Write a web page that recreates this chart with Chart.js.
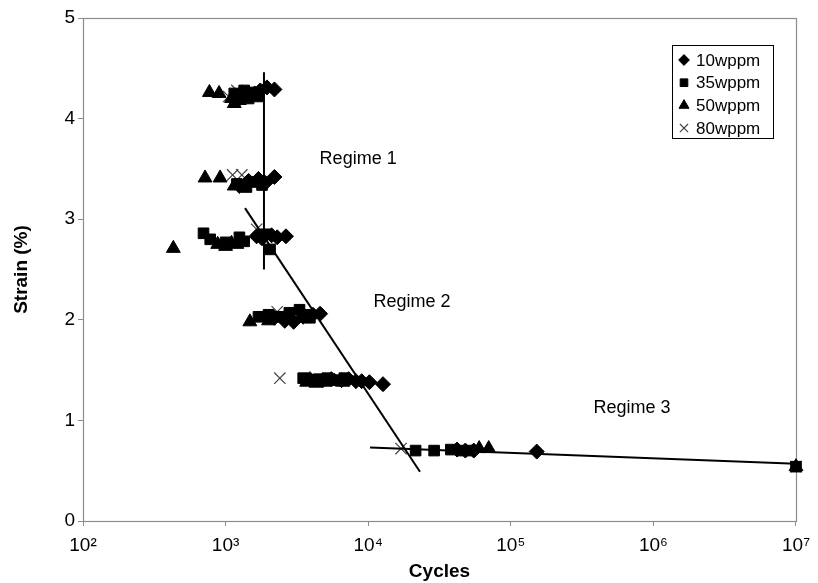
<!DOCTYPE html>
<html>
<head>
<meta charset="utf-8">
<script src="https://cdn.jsdelivr.net/npm/chart.js@4.4.1/dist/chart.umd.min.js"></script>
<style>
html,body{margin:0;padding:0;background:#fff;}
#wrap{width:818px;height:583px;}
</style>
</head>
<body>
<div id="wrap"><canvas id="c" width="818" height="583"></canvas></div>
<script>
// ---- data ----
const seriesNames = ['10wppm', '35wppm', '50wppm', '80wppm'];

const cycles10 = [1250,1400,1600,1750,1950,2200, 1250,1450,1700,1900,2200, 1650,1800,2100,2300,2650, 2200,2600,3000,3500,4100,4600, 3900,4800,5500,6500,7300,8200,9000,10200,12700, 42000,48000,55000,152000];
const strain10 = [4.20,4.23,4.25,4.28,4.31,4.29, 3.33,3.38,3.40,3.36,3.42, 2.83,2.81,2.84,2.82,2.83, 2.02,1.99,1.98,2.03,2.05,2.06, 1.41,1.40,1.41,1.40,1.41,1.39,1.39,1.38,1.36, 0.71,0.70,0.70,0.69];

const cycles35 = [1150,1250,1350,1450,1550,1700, 1200,1400,1600,1800, 700,780,1000,1250,1350,1900,2050, 1700,2000,2400,2800,3300,3600,3900, 3500,4000,4500,5200,6000,6800, 21500,29000,38000,45000,52000,10000000];
const strain35 = [4.25,4.22,4.28,4.20,4.26,4.22, 3.35,3.32,3.37,3.34, 2.86,2.80,2.77,2.82,2.78,2.85,2.70, 2.03,2.05,2.03,2.07,2.10,2.05,2.02, 1.42,1.40,1.41,1.42,1.40,1.42, 0.70,0.70,0.71,0.70,0.70,0.54];

const cycles50 = [770,900,1100,1150,1250, 718,915,1150, 430,880,1000,1100,1200, 1480,2000, 3700,4300,5000,5800,6600, 60000,70000,10000000];
const strain50 = [4.26,4.25,4.20,4.15,4.18, 3.41,3.41,3.33, 2.71,2.75,2.73,2.76,2.75, 1.98,1.99, 1.38,1.37,1.38,1.39,1.38, 0.72,0.72,0.54];

const cycles80 = [1050,1200,1120,1300,1650,2300,2400,17000,10000000];
const strain80 = [4.22,4.28,3.44,3.44,2.90,2.08,1.42,0.72,0.54];

// fitted regime lines (end points)
const line1Cycles = [1858, 1858];
const line1Strain = [4.46, 2.50];
const line2Cycles = [1368, 23070];
const line2Strain = [3.11, 0.49];
const line3Cycles = [10300, 10000000];
const line3Strain = [0.73, 0.57];

// axis ticks
const xTickValues = [1e2, 1e3, 1e4, 1e5, 1e6, 1e7];
const xTickLabels = ['10\u00B2', '10\u00B3', '10\u2074', '10\u2075', '10\u2076', '10\u2077'];
const yTickValues = [0, 1, 2, 3, 4, 5];

// regime annotations
const regimeLabels = ['Regime 1', 'Regime 2', 'Regime 3'];
const regimeCycles = [8500, 20300, 708000];
const regimeStrain = [3.60, 2.18, 1.12];

// ---- build ----
function pts(xs, ys) { return xs.map((x, i) => ({x: x, y: ys[i]})); }

const markerStyles = [
  {pointStyle: 'rectRot', radius: 7.5, bg: '#000', border: '#000', bw: 1},
  {pointStyle: 'rect', radius: 7.5, bg: '#000', border: '#000', bw: 1},
  {pointStyle: 'triangle', radius: 8, bg: '#000', border: '#000', bw: 1},
  {pointStyle: 'crossRot', radius: 8, bg: '#444', border: '#444', bw: 1.2}
];
const seriesData = [pts(cycles10, strain10), pts(cycles35, strain35), pts(cycles50, strain50), pts(cycles80, strain80)];

const datasets = seriesNames.map((name, i) => ({
  label: name,
  data: seriesData[i],
  showLine: false,
  clip: false,
  pointStyle: markerStyles[i].pointStyle,
  pointRadius: markerStyles[i].radius,
  pointHoverRadius: markerStyles[i].radius,
  backgroundColor: markerStyles[i].bg,
  borderColor: markerStyles[i].border,
  pointBorderWidth: markerStyles[i].bw,
  order: 1
}));

[[line1Cycles, line1Strain], [line2Cycles, line2Strain], [line3Cycles, line3Strain]].forEach((l, i) => {
  datasets.push({
    label: 'fit' + (i + 1),
    data: pts(l[0], l[1]),
    showLine: true,
    clip: false,
    pointRadius: 0,
    borderColor: '#000',
    borderWidth: 2,
    fill: false,
    order: 0
  });
});

const FONT = '"Liberation Sans", Arial, sans-serif';

const decor = {
  id: 'decor',
  beforeDatasetsDraw(chart) {
    const {ctx, chartArea: a} = chart;
    ctx.save();
    ctx.strokeStyle = '#8c8c8c';
    ctx.lineWidth = 1.2;
    ctx.strokeRect(a.left + 0.5, a.top + 0.5, a.right - a.left, a.bottom - a.top);
    ctx.restore();
  },
  afterDatasetsDraw(chart) {
    const {ctx, scales} = chart;
    ctx.save();
    // regime labels
    ctx.fillStyle = '#000';
    ctx.font = '18px ' + FONT;
    ctx.textAlign = 'center';
    ctx.textBaseline = 'middle';
    regimeLabels.forEach((t, i) => {
      ctx.fillText(t, scales.x.getPixelForValue(regimeCycles[i]), scales.y.getPixelForValue(regimeStrain[i]));
    });
    // legend box
    const bx = 672, by = 45, bw = 101, bh = 93;
    ctx.fillStyle = '#fff';
    ctx.fillRect(bx, by, bw, bh);
    ctx.strokeStyle = '#000';
    ctx.lineWidth = 1;
    ctx.strokeRect(bx + 0.5, by + 0.5, bw, bh);
    ctx.font = '17px ' + FONT;
    ctx.textAlign = 'left';
    seriesNames.forEach((name, i) => {
      const yy = by + 15 + i * 22.7;
      const st = markerStyles[i];
      ctx.fillStyle = st.bg;
      ctx.strokeStyle = st.border;
      ctx.lineWidth = st.bw;
      Chart.helpers.drawPoint(ctx, {pointStyle: st.pointStyle, radius: st.radius * 0.72, borderWidth: st.bw}, bx + 12, yy);
      ctx.fillStyle = '#000';
      ctx.fillText(name, bx + 24, yy + 1);
    });
    ctx.restore();
  }
};

new Chart(document.getElementById('c'), {
  type: 'scatter',
  data: {datasets: datasets},
  plugins: [decor],
  options: {
    responsive: false,
    animation: false,
    layout: {padding: {top: 18, right: 22, left: 0, bottom: 0}},
    plugins: {legend: {display: false}, tooltip: {enabled: false}},
    scales: {
      x: {
        type: 'logarithmic',
        min: 1e2, max: 1e7,
        afterBuildTicks(s) { s.ticks = xTickValues.map(v => ({value: v})); },
        afterFit(s) { s.height = 62; },
        ticks: {
          autoSkip: false, maxRotation: 0,
          color: '#000',
          font: {family: FONT, size: 19},
          padding: 8,
          callback(v) { const k = xTickValues.indexOf(v); return k >= 0 ? xTickLabels[k] : ''; }
        },
        grid: {display: true, drawOnChartArea: false, drawTicks: true, tickLength: 5, color: '#8c8c8c'},
        border: {display: true, color: '#8c8c8c'},
        title: {display: true, text: 'Cycles', color: '#000', font: {family: FONT, size: 19, weight: 'bold'}, padding: {top: 0, bottom: 0}}
      },
      y: {
        min: 0, max: 5,
        afterBuildTicks(s) { s.ticks = yTickValues.map(v => ({value: v})); },
        afterFit(s) { s.width = 83; },
        ticks: {color: '#000', font: {family: FONT, size: 19}, padding: 3},
        grid: {display: true, drawOnChartArea: false, drawTicks: true, tickLength: 5, color: '#8c8c8c'},
        border: {display: true, color: '#8c8c8c'},
        title: {display: true, text: 'Strain (%)', color: '#000', font: {family: FONT, size: 19, weight: 'bold'}, padding: {top: 10, bottom: 4}}
      }
    }
  }
});
</script>
</body>
</html>
